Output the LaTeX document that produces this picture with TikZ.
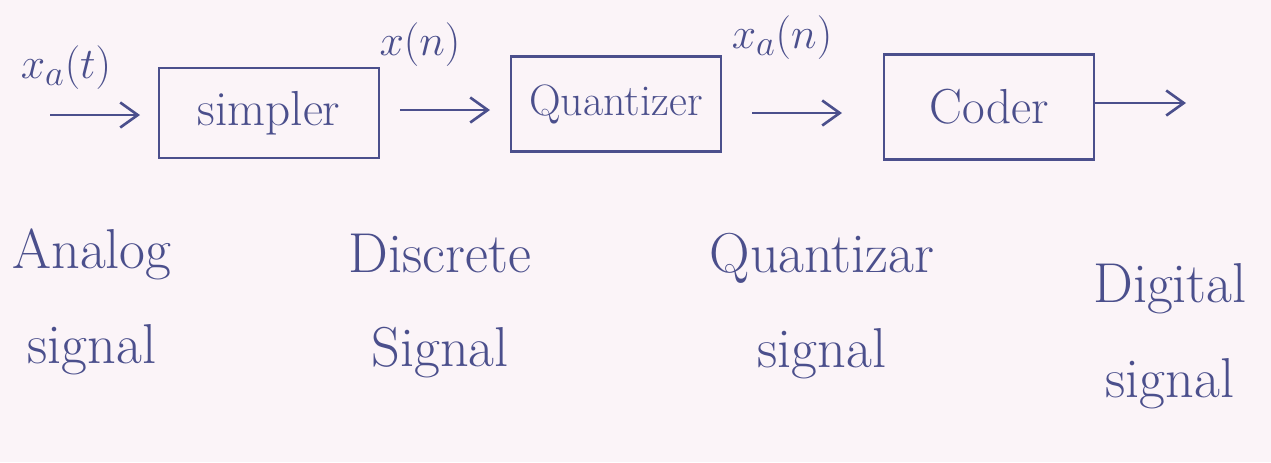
\documentclass[tikz,border=0pt]{standalone}
\usepackage{amsmath}
\usepackage{xcolor}
\usepackage{tikz}
\usetikzlibrary{positioning,arrows.meta}
\definecolor{ink}{HTML}{4B4F8C}
\definecolor{paper}{HTML}{FBF4F8}
\tikzset{
  blk/.style ={draw=ink, line width=1.5pt, minimum width=44mm, minimum height=18mm, text=ink, font=\fontsize{28}{32}\selectfont},
  sig/.style ={text=ink, font=\fontsize{28}{32}\selectfont},
  lbl/.style ={text=ink, font=\fontsize{32}{54}\selectfont, align=center},
  flow/.style={draw=ink, line width=1.5pt, -{Straight Barb[length=3.5mm,width=5mm]}},
}
\begin{document}
\begin{tikzpicture}[x=0.2mm,y=-0.2mm]
\fill[paper] (0,0) rectangle (1271,462);
\useasboundingbox (0,0) rectangle (1271,462);

\node[blk] (samp) at (269,113) {simpler};
\node[blk, minimum width=42mm, minimum height=19mm, font=\fontsize{25}{30}\selectfont] (quant) at (616,104) {Quantizer};
\node[blk, minimum width=42mm, minimum height=21mm] (cod) at (989,107) {Coder};

% arrow ends
\coordinate (a0) at (50,115);  \coordinate (a1) at (140,115);
\coordinate (b0) at (400,110); \coordinate (b1) at (490,110);
\coordinate (c0) at (752,113); \coordinate (c1) at (842,113);
\coordinate (out) at (1186,103);

\draw[flow] (a0) -- (a1);
\draw[flow] (b0) -- (b1);
\draw[flow] (c0) -- (c1);
\draw[flow] (cod.east |- out) -- (out);

\node[sig] (xat) at (66,68) {$x_a(t)$};
\node[sig] (xn) at (420,45) {$x(n)$};
\node[sig] (xan) at (782,38) {$x_a(n)$};

\node[lbl] (ana) at (92,302) {Analog\\signal};
\node[lbl] (dis) at (440,306) {Discrete\\Signal};
\node[lbl] (qua) at (822,306) {Quantizar\\signal};
\node[lbl] (dig) at (1170,336) {Digital\\signal};
\end{tikzpicture}
\end{document}
